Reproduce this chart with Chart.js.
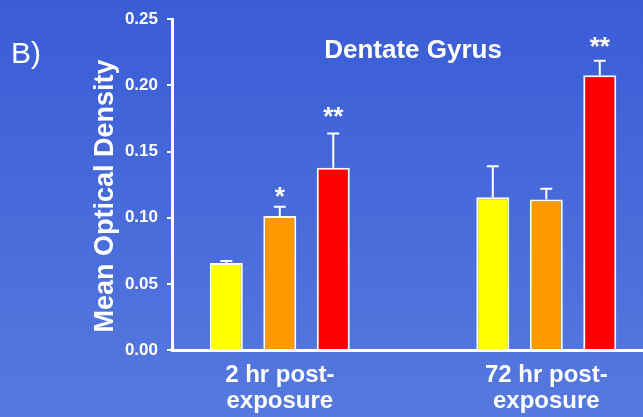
<!DOCTYPE html>
<html>
<head>
<meta charset="utf-8">
<script src="https://cdn.jsdelivr.net/npm/chart.js@4.4.0/dist/chart.umd.min.js"></script>
<style>
  html, body { margin: 0; padding: 0; overflow: hidden; }
  body { width: 643px; height: 417px; background: linear-gradient(to bottom, #3a5cd6 0%, #5679df 100%); }
  canvas { display: block; }
</style>
</head>
<body>
<canvas id="chart" width="643" height="417"></canvas>
<script>
const groupLabels = [['2 hr post-', 'exposure'], ['72 hr post-', 'exposure']];
const groupPos = [0, 1];
const yTicks = [0, 0.05, 0.10, 0.15, 0.20, 0.25];

const yellowValues = [0.0657, 0.1155];
const orangeValues = [0.1013, 0.1138];
const redValues = [0.1378, 0.2076];

const yellowErrors = [0.0015, 0.0233];
const orangeErrors = [0.0069, 0.0081];
const redErrors = [0.0259, 0.0110];

// significance marks and the level (data units) where they sit
const orangeStars = ['*', ''];
const redStars = ['**', '**'];
const orangeStarLevels = [0.1196, null];
const redStarLevels = [0.1795, 0.2328];

const FONT = "'Liberation Sans', Arial, sans-serif";
Chart.defaults.font.family = FONT;

function points(vals) {
  return vals.map((v, i) => ({ x: groupPos[i], y: v }));
}

function makeSet(label, vals, errs, color, stars, levels) {
  return {
    label: label,
    data: points(vals),
    errors: errs,
    stars: stars || [],
    starLevels: levels || [],
    backgroundColor: color,
    borderColor: '#ffffff',
    borderWidth: 2,
    categoryPercentage: 0.602,
    barPercentage: 0.617
  };
}

// error bars, asterisks and the free text of the slide
const extras = {
  id: 'extras',
  afterDatasetsDraw(chart) {
    const ctx = chart.ctx;
    const yScale = chart.scales.y;
    ctx.save();
    ctx.strokeStyle = '#ffffff';
    ctx.fillStyle = '#ffffff';
    ctx.lineWidth = 2;
    chart.data.datasets.forEach((ds, i) => {
      const meta = chart.getDatasetMeta(i);
      meta.data.forEach((bar, j) => {
        const top = yScale.getPixelForValue(ds.data[j].y + ds.errors[j]);
        ctx.beginPath();
        ctx.moveTo(bar.x, bar.y);
        ctx.lineTo(bar.x, top);
        ctx.moveTo(bar.x - 6, top);
        ctx.lineTo(bar.x + 6, top);
        ctx.stroke();

        const s = ds.stars[j];
        if (s) {
          ctx.font = 'bold 26px ' + FONT;
          ctx.textAlign = 'center';
          ctx.textBaseline = 'alphabetic';
          const m = ctx.measureText(s);
          const cy = yScale.getPixelForValue(ds.starLevels[j]);
          const base = cy + (m.actualBoundingBoxAscent - m.actualBoundingBoxDescent) / 2;
          ctx.fillText(s, bar.x, base);
        }
      });
    });
    ctx.restore();
  },
  afterDraw(chart) {
    const ctx = chart.ctx;
    ctx.save();
    ctx.fillStyle = '#ffffff';
    ctx.textBaseline = 'alphabetic';

    ctx.font = '30px ' + FONT;
    ctx.textAlign = 'left';
    ctx.fillText('B)', 11, 63);

    ctx.font = 'bold 26px ' + FONT;
    ctx.textAlign = 'center';
    ctx.fillText('Dentate Gyrus', 413, 58);

    ctx.translate(113, 196);
    ctx.rotate(-Math.PI / 2);
    ctx.font = 'bold 27px ' + FONT;
    ctx.fillText('Mean Optical Density', 0, 0);
    ctx.restore();
  }
};

new Chart(document.getElementById('chart'), {
  type: 'bar',
  data: {
    datasets: [
      makeSet('yellow', yellowValues, yellowErrors, '#ffff00'),
      makeSet('orange', orangeValues, orangeErrors, '#ff9900', orangeStars, orangeStarLevels),
      makeSet('red', redValues, redErrors, '#ff0000', redStars, redStarLevels)
    ]
  },
  options: {
    responsive: false,
    animation: false,
    layout: { padding: { top: 16, left: 0, right: 0, bottom: 0 } },
    plugins: {
      legend: { display: false },
      tooltip: { enabled: false }
    },
    scales: {
      x: {
        type: 'linear',
        offset: false,
        min: -0.4045,
        max: 1.3629,
        afterBuildTicks: s => { s.ticks = groupPos.map(v => ({ value: v })); },
        afterFit: s => { s.height = 67; },
        ticks: {
          color: '#ffffff',
          font: { size: 24, weight: 'bold', lineHeight: 1.1 },
          padding: 12,
          maxRotation: 0,
          autoSkip: false,
          callback: v => groupLabels[groupPos.indexOf(v)]
        },
        grid: { offset: false, drawOnChartArea: false, drawTicks: false, color: '#ffffff' },
        border: { color: '#ffffff', width: 3 }
      },
      y: {
        min: 0,
        max: 0.25,
        afterBuildTicks: s => { s.ticks = yTicks.map(v => ({ value: v })); },
        afterFit: s => { s.width = 172; },
        ticks: {
          color: '#ffffff',
          font: { size: 17, weight: 'bold' },
          padding: 9,
          callback: v => Number(v).toFixed(2)
        },
        grid: { drawOnChartArea: false, drawTicks: true, tickLength: 5, color: '#ffffff', lineWidth: 2 },
        border: { color: '#ffffff', width: 3 }
      }
    }
  },
  plugins: [extras]
});
</script>
</body>
</html>
